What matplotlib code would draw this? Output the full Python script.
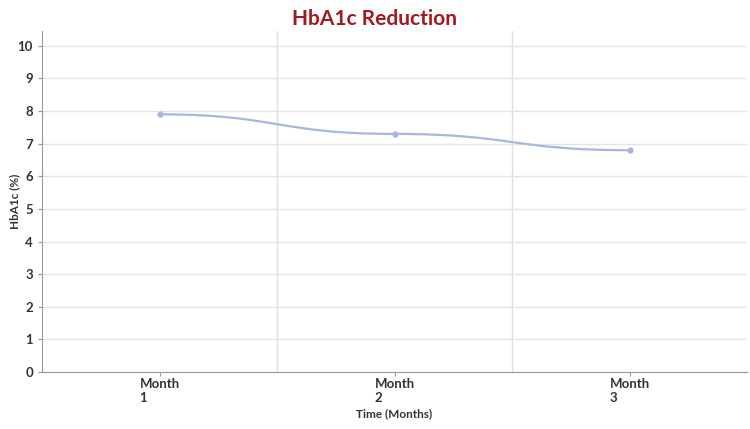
import numpy as np
import matplotlib.pyplot as plt
from matplotlib.path import Path
from matplotlib.patches import PathPatch

months = ['Month\n1', 'Month\n2', 'Month\n3']
hba1c = [7.9, 7.3, 6.8]

line_color = '#a7b6e2'
title_color = '#a3191d'

plt.rcParams['font.family'] = ['Lato', 'DejaVu Sans']

fig = plt.figure(figsize=(7.5, 4.29), dpi=100)
ax = fig.add_axes([0.056, 0.133, 0.94, 0.795])

x = np.arange(len(hba1c))

# smooth line: cubic segments, flat at each point
verts = [(x[0], hba1c[0])]
codes = [Path.MOVETO]
for i in range(len(x) - 1):
    xm = (x[i] + x[i+1]) / 2
    verts += [(xm, hba1c[i]), (xm, hba1c[i+1]), (x[i+1], hba1c[i+1])]
    codes += [Path.CURVE4] * 3
ax.add_patch(PathPatch(Path(verts, codes), facecolor='none',
                       edgecolor=line_color, lw=1.6, zorder=3))
ax.plot(x, hba1c, 'o', color=line_color, ms=3.5, zorder=4)

ax.set_xlim(-0.5, 2.5)
ax.set_ylim(0, 10.46)
ax.set_yticks(range(0, 11))
ax.set_xticks(x)
ax.set_xticklabels(months, multialignment='left', linespacing=1.2)
ax.set_xticks([0.5, 1.5], minor=True)

ax.grid(axis='y', color='#e4e4e4', lw=1)
ax.grid(axis='x', which='minor', color='#e0e0e0', lw=1)
ax.set_axisbelow(True)

for s in ['top', 'right']:
    ax.spines[s].set_visible(False)
ax.spines['left'].set_color('#9a9a9a')
ax.spines['bottom'].set_color('#9a9a9a')
ax.tick_params(axis='both', which='major', colors='#9a9a9a', labelcolor='#333333',
               labelsize=9.5, length=3)
ax.tick_params(axis='x', which='minor', length=0)
ax.tick_params(axis='x', pad=1.5)
for lab in ax.get_yticklabels() + ax.get_xticklabels():
    lab.set_fontweight('bold')

ax.set_ylabel('HbA1c (%)', fontsize=8.5, fontweight='bold', color='#333333')
ax.yaxis.set_label_coords(-0.031, 0.5)
ax.set_xlabel('Time (Months)', fontsize=8.5, fontweight='bold', color='#333333', labelpad=3)
fig.suptitle('HbA1c Reduction', x=0.5, y=0.978, fontsize=15, fontweight='bold',
             color=title_color)

fig.savefig('out.png', dpi=100)
